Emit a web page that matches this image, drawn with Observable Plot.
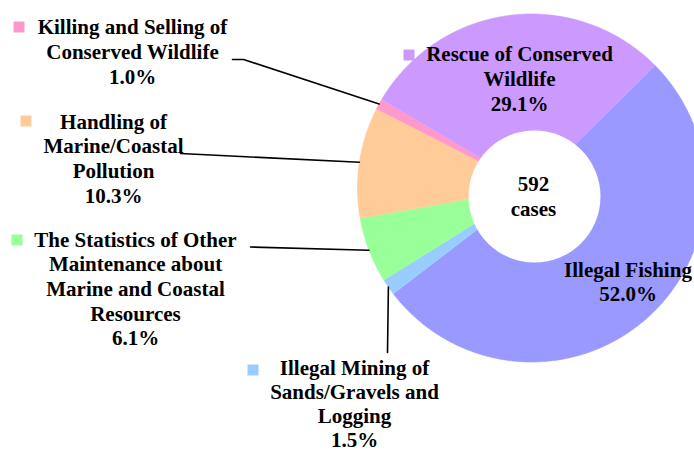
<!DOCTYPE html>
<html>
<head>
<meta charset="utf-8">
<script src="https://cdn.jsdelivr.net/npm/d3@7"></script>
<script src="https://cdn.jsdelivr.net/npm/@observablehq/plot@0.6"></script>
<style>
  html, body { margin: 0; padding: 0; background: #fff; }
  #chart svg { display: block; }
</style>
</head>
<body>
<div id="chart"></div>
<script>
// ---- data ----
const categories = [
  "Illegal Fishing",
  "Illegal Mining of Sands/Gravels and Logging",
  "The Statistics of Other Maintenance about Marine and Coastal Resources",
  "Handling of Marine/Coastal Pollution",
  "Killing and Selling of Conserved Wildlife",
  "Rescue of Conserved Wildlife"
];
const cases = [308, 9, 36, 61, 6, 172];
const labelLines = [
  ["Illegal Fishing"],
  ["Illegal Mining of", "Sands/Gravels and", "Logging"],
  ["The Statistics of Other", "Maintenance about", "Marine and Coastal", "Resources"],
  ["Handling of", "Marine/Coastal", "Pollution"],
  ["Killing and Selling of", "Conserved Wildlife"],
  ["Rescue of Conserved", "Wildlife"]
];
const colors = ["#9999FF", "#99CCFF", "#99FF99", "#FFCC99", "#FF99CC", "#CC99FF"];
const centerUnit = "cases";

// ---- layout (pixels) ----
const W = 694, H = 453;
const pie = {cx: 531, cy: 187.5, R: 174, startDeg: 45.3};
const hole = {x: 534, y: 196, r: 66};
const labelPos = [
  {x: 627.5, y: 280.5, swatch: null,          leader: null,                 lh: 1.176},
  {x: 354,   y: 403,   swatch: [252.5, 369.5], leader: [[387, 352]],         lh: 1.15},
  {x: 135,   y: 287.5, swatch: [16.5, 239.5], leader: [[250, 246.5]],       lh: 1.176},
  {x: 113,   y: 157.2, swatch: [25.5, 120.5], leader: [[180, 153]],         lh: 1.176},
  {x: 132,   y: 50.5,  swatch: [18.5, 26.5],  leader: [[232, 59], [243, 59]], lh: 1.176},
  {x: 519,   y: 77.5,  swatch: [408.5, 54.5], leader: null,                 lh: 1.176}
];
const centerPos = {x: 533, y: 195};

// ---- derived ----
const total = d3.sum(cases);
const start = pie.startDeg * Math.PI / 180;
const arcs = d3.pie().sort(null).startAngle(start).endAngle(start + 2 * Math.PI)(cases);
const px = (a, r) => pie.cx + r * Math.sin(a);
const py = (a, r) => pie.cy - r * Math.cos(a);

const slicePts = [];
arcs.forEach((a, i) => {
  const cat = categories[i];
  slicePts.push({cat, x: pie.cx, y: pie.cy});
  const n = Math.max(2, Math.ceil((a.endAngle - a.startAngle) / (Math.PI / 360)));
  for (let k = 0; k <= n; k++) {
    const t = a.startAngle + (a.endAngle - a.startAngle) * k / n;
    slicePts.push({cat, x: px(t, pie.R), y: py(t, pie.R)});
  }
});

const pct = cases.map(v => (v / total * 100).toFixed(1) + "%");
const labels = categories.map((c, i) => ({
  cat: c,
  text: labelLines[i].concat([pct[i]]).join("\n"),
  x: labelPos[i].x, y: labelPos[i].y
}));
const swatches = categories.map((c, i) => labelPos[i].swatch ? {cat: c, x: labelPos[i].swatch[0], y: labelPos[i].swatch[1]} : null).filter(Boolean);

const leaderPts = [];
arcs.forEach((a, i) => {
  const L = labelPos[i].leader;
  if (!L) return;
  const mid = (a.startAngle + a.endAngle) / 2;
  L.forEach(p => leaderPts.push({cat: categories[i], x: p[0], y: p[1]}));
  leaderPts.push({cat: categories[i], x: px(mid, pie.R), y: py(mid, pie.R)});
});

const font = "'Liberation Serif', 'Times New Roman', serif";
const textOpts = {x: "x", y: "y", text: "text", fill: "#000", fontSize: 21, fontWeight: "bold", textAnchor: "middle", fontFamily: font};

const chart = Plot.plot({
  width: W, height: H, margin: 0,
  x: {domain: [0, W], range: [0, W], axis: null},
  y: {domain: [0, H], range: [0, H], axis: null},
  color: {domain: categories, range: colors},
  style: {background: "#fff", fontFamily: font},
  marks: [
    Plot.line(slicePts, {x: "x", y: "y", z: "cat", fill: "cat", stroke: "cat", strokeWidth: 0.6}),
    Plot.dot([hole], {x: "x", y: "y", r: hole.r, fill: "#fff", stroke: null}),
    Plot.line(leaderPts, {x: "x", y: "y", z: "cat", stroke: "#000", strokeWidth: 1.6}),
    Plot.dot(swatches, {x: "x", y: "y", fill: "cat", symbol: "square", r: 6.2, stroke: null}),
    Plot.text(labels.filter((d, i) => i !== 1), {...textOpts, lineHeight: 1.176}),
    Plot.text(labels.filter((d, i) => i === 1), {...textOpts, lineHeight: labelPos[1].lh}),
    Plot.text([centerPos], {x: "x", y: "y", text: () => total + "\n" + centerUnit, fill: "#000", fontSize: 21, fontWeight: "bold", lineHeight: 1.19, textAnchor: "middle", fontFamily: font})
  ]
});
document.getElementById("chart").appendChild(chart);
</script>
</body>
</html>
